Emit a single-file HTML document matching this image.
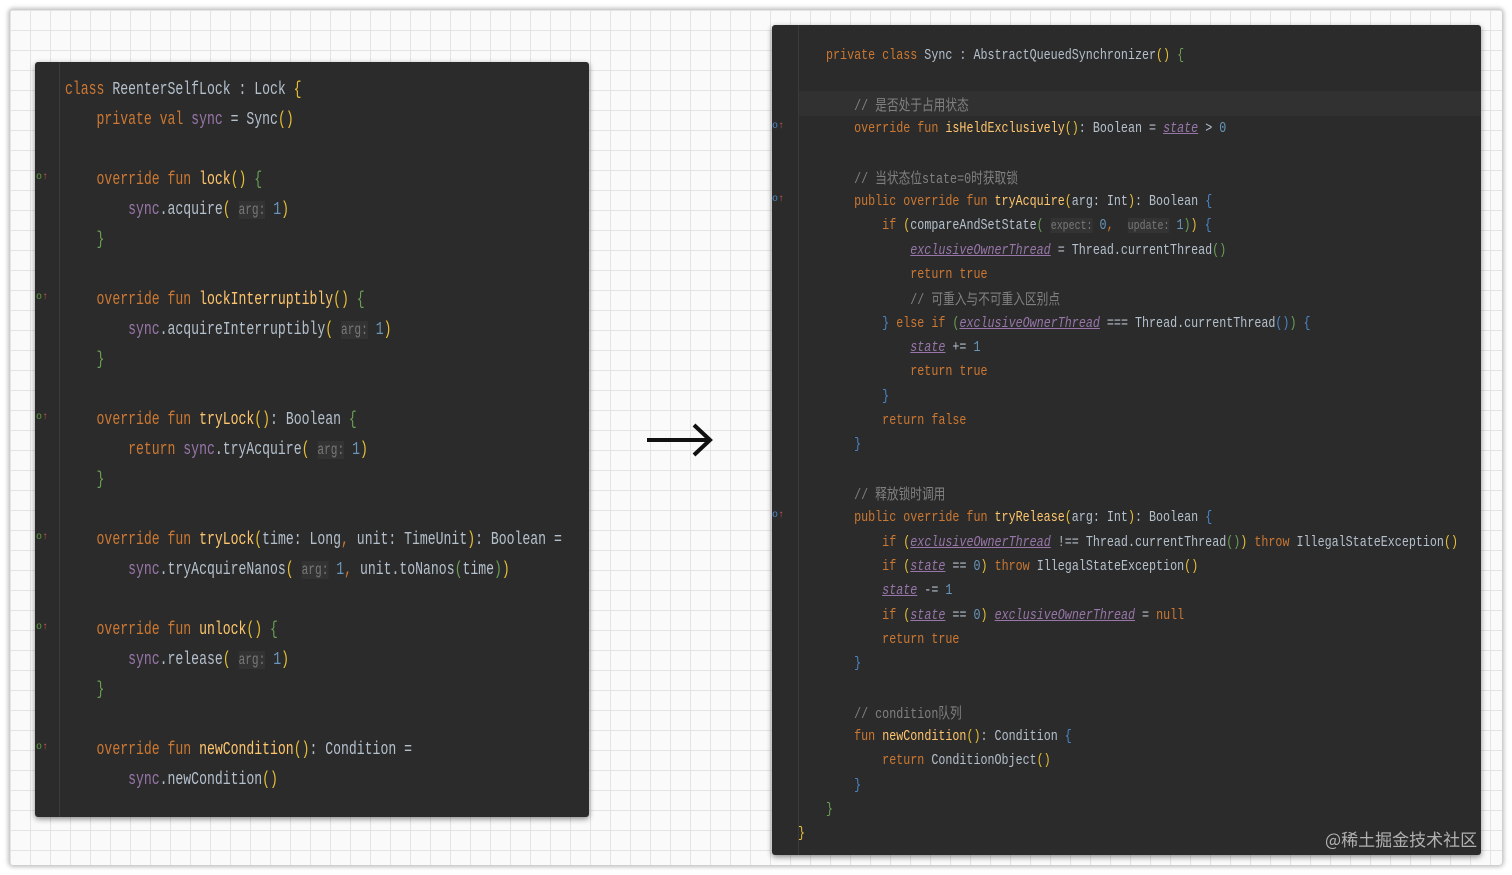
<!DOCTYPE html>
<html><head><meta charset="utf-8">
<style>
html,body{margin:0;padding:0}
body{width:1512px;height:875px;position:relative;overflow:hidden;background:#fff;}
.card{position:absolute;left:10px;top:10px;width:1492px;height:855px;background-color:#fafafa;
background-image:linear-gradient(#e4e4e4 1px,transparent 1px),linear-gradient(90deg,#e4e4e4 1px,transparent 1px);
background-size:20px 20px;box-shadow:0 0 4px 2px rgba(0,0,0,0.25);border-radius:3px}
.panel{position:absolute;background:#2b2b2b;box-shadow:0 2px 6px rgba(0,0,0,0.45);border-radius:3px;overflow:hidden}
.gut{position:absolute;top:0;bottom:0;width:1px;background:#3a3a3a}
.l{position:absolute;white-space:pre;font-family:"Liberation Mono","Noto Sans CJK SC",monospace;color:#b4c0cc;transform-origin:0 50%}
.L .l{font-size:18px;height:30px;line-height:30px;transform:scaleX(0.73)}
.R .l{font-size:15px;height:24px;line-height:24px;transform:scaleX(0.78)}
.k{color:#cc7832}.f{color:#ffc66d}.p{color:#9876aa}.n{color:#6897bb}
.c{color:#808080}.h{color:#787878;background:#333;font-size:0.85em}
.u{color:#9876aa;font-style:italic;text-decoration:underline}
.y{color:#e8c035}.g{color:#6a9f55}.b{color:#4a86c8}
.cj{font-family:"Noto Sans CJK SC",sans-serif;font-size:15px}
.mk{position:absolute;font-size:10px;color:#5d9e3d;font-family:"Liberation Mono",monospace}
</style></head><body>
<div class="card"></div>

<div class="panel L" style="left:35px;top:62px;width:554px;height:755px">
<div class="gut" style="left:24px"></div>
<div class="l" style="left:30px;top:13px"><span class="k">class</span> ReenterSelfLock : Lock <span class="y">{</span></div>
<div class="l" style="left:30px;top:43px">    <span class="k">private val</span> <span class="p">sync</span> = Sync<span class="y">()</span></div>
<div class="l" style="left:30px;top:103px">    <span class="k">override fun</span> <span class="f">lock</span><span class="y">()</span> <span class="g">{</span></div>
<div class="l" style="left:30px;top:133px">        <span class="p">sync</span>.acquire<span class="y">(</span> <span class="h">arg:</span> <span class="n">1</span><span class="y">)</span></div>
<div class="l" style="left:30px;top:163px">    <span class="g">}</span></div>
<div class="l" style="left:30px;top:223px">    <span class="k">override fun</span> <span class="f">lockInterruptibly</span><span class="y">()</span> <span class="g">{</span></div>
<div class="l" style="left:30px;top:253px">        <span class="p">sync</span>.acquireInterruptibly<span class="y">(</span> <span class="h">arg:</span> <span class="n">1</span><span class="y">)</span></div>
<div class="l" style="left:30px;top:283px">    <span class="g">}</span></div>
<div class="l" style="left:30px;top:343px">    <span class="k">override fun</span> <span class="f">tryLock</span><span class="y">()</span>: Boolean <span class="g">{</span></div>
<div class="l" style="left:30px;top:373px">        <span class="k">return</span> <span class="p">sync</span>.tryAcquire<span class="y">(</span> <span class="h">arg:</span> <span class="n">1</span><span class="y">)</span></div>
<div class="l" style="left:30px;top:403px">    <span class="g">}</span></div>
<div class="l" style="left:30px;top:463px">    <span class="k">override fun</span> <span class="f">tryLock</span><span class="y">(</span>time: Long<span class="k">,</span> unit: TimeUnit<span class="y">)</span>: Boolean =</div>
<div class="l" style="left:30px;top:493px">        <span class="p">sync</span>.tryAcquireNanos<span class="y">(</span> <span class="h">arg:</span> <span class="n">1</span><span class="k">,</span> unit.toNanos<span class="g">(</span>time<span class="g">)</span><span class="y">)</span></div>
<div class="l" style="left:30px;top:553px">    <span class="k">override fun</span> <span class="f">unlock</span><span class="y">()</span> <span class="g">{</span></div>
<div class="l" style="left:30px;top:583px">        <span class="p">sync</span>.release<span class="y">(</span> <span class="h">arg:</span> <span class="n">1</span><span class="y">)</span></div>
<div class="l" style="left:30px;top:613px">    <span class="g">}</span></div>
<div class="l" style="left:30px;top:673px">    <span class="k">override fun</span> <span class="f">newCondition</span><span class="y">()</span>: Condition =</div>
<div class="l" style="left:30px;top:703px">        <span class="p">sync</span>.newCondition<span class="y">()</span></div>
<div class="mk" style="left:1px;top:110px">o<span style="color:#c55">↑</span></div>
<div class="mk" style="left:1px;top:230px">o<span style="color:#c55">↑</span></div>
<div class="mk" style="left:1px;top:350px">o<span style="color:#c55">↑</span></div>
<div class="mk" style="left:1px;top:470px">o<span style="color:#c55">↑</span></div>
<div class="mk" style="left:1px;top:560px">o<span style="color:#c55">↑</span></div>
<div class="mk" style="left:1px;top:680px">o<span style="color:#c55">↑</span></div>
</div>

<svg style="position:absolute;left:640px;top:420px" width="80" height="40">
<line x1="7" y1="20" x2="70" y2="20" stroke="#111" stroke-width="4"/>
<polyline points="54,5 70,20 54,35" fill="none" stroke="#111" stroke-width="4" stroke-linejoin="miter"/>
</svg>

<div class="panel R" style="left:772px;top:25px;width:709px;height:830px">
<div class="gut" style="left:26px"></div>
<div style="position:absolute;left:27px;right:0;top:66px;height:25px;background:#313131"></div>
<div class="l" style="left:54px;top:19px"><span class="k">private class</span> Sync : AbstractQueuedSynchronizer<span class="y">()</span> <span class="g">{</span></div>
<div class="l" style="left:54px;top:68px">    <span class="c">// <span class="cj">是否处于占用状态</span></span></div>
<div class="l" style="left:54px;top:92px">    <span class="k">override fun</span> <span class="f">isHeldExclusively</span><span class="y">()</span>: Boolean = <span class="u">state</span> &gt; <span class="n">0</span></div>
<div class="l" style="left:54px;top:141px">    <span class="c">// <span class="cj">当状态位</span>state=0<span class="cj">时获取锁</span></span></div>
<div class="l" style="left:54px;top:165px">    <span class="k">public override fun</span> <span class="f">tryAcquire</span><span class="y">(</span>arg: Int<span class="y">)</span>: Boolean <span class="b">{</span></div>
<div class="l" style="left:54px;top:189px">        <span class="k">if</span> <span class="y">(</span>compareAndSetState<span class="g">(</span> <span class="h">expect:</span> <span class="n">0</span><span class="k">,</span>  <span class="h">update:</span> <span class="n">1</span><span class="g">)</span><span class="y">)</span> <span class="b">{</span></div>
<div class="l" style="left:54px;top:214px">            <span class="u">exclusiveOwnerThread</span> = Thread.currentThread<span class="g">()</span></div>
<div class="l" style="left:54px;top:238px">            <span class="k">return true</span></div>
<div class="l" style="left:54px;top:262px">            <span class="c">// <span class="cj">可重入与不可重入区别点</span></span></div>
<div class="l" style="left:54px;top:287px">        <span class="b">}</span> <span class="k">else if</span> <span class="g">(</span><span class="u">exclusiveOwnerThread</span> === Thread.currentThread<span class="b">()</span><span class="g">)</span> <span class="b">{</span></div>
<div class="l" style="left:54px;top:311px">            <span class="u">state</span> += <span class="n">1</span></div>
<div class="l" style="left:54px;top:335px">            <span class="k">return true</span></div>
<div class="l" style="left:54px;top:360px">        <span class="b">}</span></div>
<div class="l" style="left:54px;top:384px">        <span class="k">return false</span></div>
<div class="l" style="left:54px;top:408px">    <span class="b">}</span></div>
<div class="l" style="left:54px;top:457px">    <span class="c">// <span class="cj">释放锁时调用</span></span></div>
<div class="l" style="left:54px;top:481px">    <span class="k">public override fun</span> <span class="f">tryRelease</span><span class="y">(</span>arg: Int<span class="y">)</span>: Boolean <span class="b">{</span></div>
<div class="l" style="left:54px;top:506px">        <span class="k">if</span> <span class="y">(</span><span class="u">exclusiveOwnerThread</span> !== Thread.currentThread<span class="g">()</span><span class="y">)</span> <span class="k">throw</span> IllegalStateException<span class="y">()</span></div>
<div class="l" style="left:54px;top:530px">        <span class="k">if</span> <span class="y">(</span><span class="u">state</span> == <span class="n">0</span><span class="y">)</span> <span class="k">throw</span> IllegalStateException<span class="y">()</span></div>
<div class="l" style="left:54px;top:554px">        <span class="u">state</span> -= <span class="n">1</span></div>
<div class="l" style="left:54px;top:579px">        <span class="k">if</span> <span class="y">(</span><span class="u">state</span> == <span class="n">0</span><span class="y">)</span> <span class="u">exclusiveOwnerThread</span> = <span class="k">null</span></div>
<div class="l" style="left:54px;top:603px">        <span class="k">return true</span></div>
<div class="l" style="left:54px;top:627px">    <span class="b">}</span></div>
<div class="l" style="left:54px;top:676px">    <span class="c">// condition<span class="cj">队列</span></span></div>
<div class="l" style="left:54px;top:700px">    <span class="k">fun</span> <span class="f">newCondition</span><span class="y">()</span>: Condition <span class="b">{</span></div>
<div class="l" style="left:54px;top:724px">        <span class="k">return</span> ConditionObject<span class="y">()</span></div>
<div class="l" style="left:54px;top:749px">    <span class="b">}</span></div>
<div class="l" style="left:54px;top:773px"><span class="g">}</span></div>
<div class="l" style="left:26px;top:797px"><span class="y">}</span></div>
<div class="mk" style="left:0px;top:96px;color:#4a86c8">o<span style="color:#c55">↑</span></div>
<div class="mk" style="left:0px;top:169px;color:#4a86c8">o<span style="color:#c55">↑</span></div>
<div class="mk" style="left:0px;top:485px;color:#4a86c8">o<span style="color:#c55">↑</span></div>
</div>
<div style="position:absolute;left:1325px;top:826px;font-family:'Noto Sans CJK SC',sans-serif;font-size:17px;color:rgba(200,200,200,0.85)">@稀土掘金技术社区</div>
</body></html>
